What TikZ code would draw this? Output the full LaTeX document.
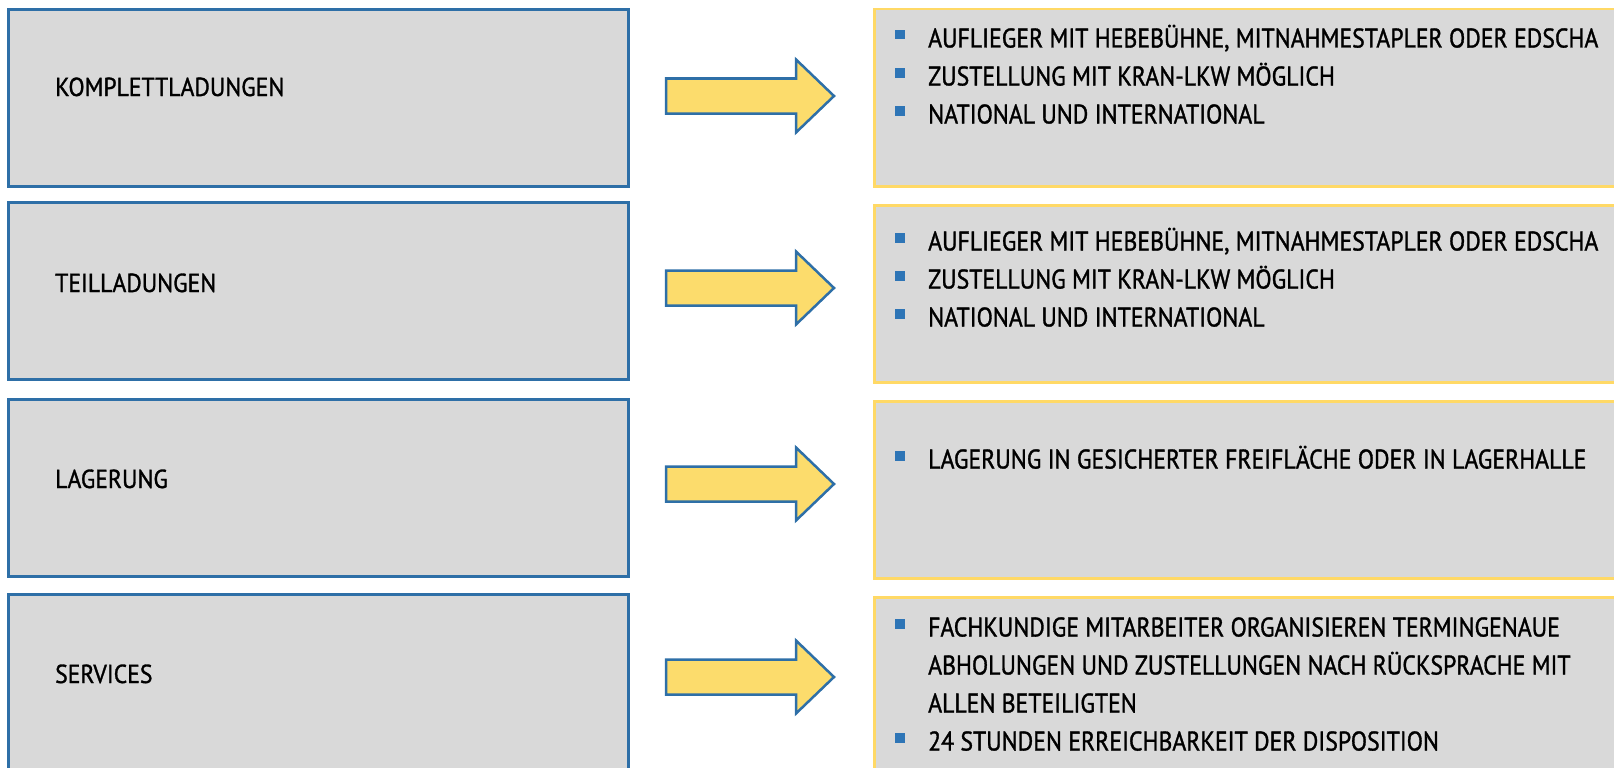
\documentclass[tikz,border=0pt]{standalone}
\usepackage{fontspec}
\setmainfont{PT Sans}
\newfontfamily\itemfont[FakeStretch=0.88,FakeBold=1.2]{PT Sans}
\newfontfamily\catfont[FakeStretch=0.91,FakeBold=1.2]{PT Sans}
\usetikzlibrary{positioning}
\definecolor{boxBlue}{HTML}{2E6FA7}
\definecolor{boxGrey}{HTML}{D9D9D9}
\definecolor{arrYellow}{HTML}{FCDC6C}
\definecolor{lineYellow}{HTML}{FFD966}
\definecolor{bulBlue}{HTML}{2E75B6}
\newcommand{\bul}{\textcolor{bulBlue}{\rule[8pt]{9.5pt}{9.5pt}}\hspace{23.5pt}}
\newcommand{\nobul}{\hspace{33pt}}
\tikzset{
	catbox/.style={draw=boxBlue, line width=3pt, fill=boxGrey, anchor=north west,
		minimum width=620pt, minimum height=177pt, inner sep=0},
	infobox/.style={draw=lineYellow, line width=2.5pt, fill=boxGrey, anchor=north west,
		minimum width=780pt, minimum height=177pt, inner sep=0},
	cattxt/.style={anchor=west, inner sep=0, text height=18pt, text depth=0pt,
		font=\catfont\fontsize{26}{30}\selectfont},
	itemtxt/.style={anchor=west, inner sep=0, text height=19pt, text depth=0pt,
		font=\itemfont\fontsize{27}{32}\selectfont},
	bigarr/.style={draw=boxBlue, line width=2.5pt, fill=arrYellow, line join=miter}
}
\newcommand{\bigarrow}[1]{\draw[bigarr] (#1) ++(0,-17.5) -- ++(130,0) -- ++(0,-19)
	-- ++(38,36.5) -- ++(-38,36.5) -- ++(0,-19) -- ++(-130,0) -- cycle;}

\begin{document}
\begin{tikzpicture}[x=1pt, y=-1pt]
	\useasboundingbox (0,0) rectangle (1614,768);
	% categories
	\node[catbox] (kompl) at (7,8) {};
	\node[catbox] (teil) at (7,201) {};
	\node[catbox] (lager) at (7,398) {};
	\node[catbox, minimum height=200pt] (serv) at (7,593) {};
	\node[cattxt] (komplL) at (55,87) {KOMPLETTLADUNGEN};
	\node[cattxt] (teilL) at (55,283) {TEILLADUNGEN};
	\node[cattxt] (lagerL) at (55,479) {LAGERUNG};
	\node[cattxt] (servL) at (55,674) {SERVICES};
	
	% details
	\node[infobox] (komplI) at (873,8) {};
	\node[infobox] (teilI) at (873,204) {};
	\node[infobox] (lagerI) at (873,400) {};
	\node[infobox, minimum height=200pt] (servI) at (873,596) {};
	
	\node[itemtxt] (k1) at (895,38) {\bul AUFLIEGER MIT HEBEBÜHNE, MITNAHMESTAPLER ODER EDSCHA};
	\node[itemtxt] (k2) at (895,76) {\bul ZUSTELLUNG MIT KRAN-LKW MÖGLICH};
	\node[itemtxt] (k3) at (895,114) {\bul NATIONAL UND INTERNATIONAL};
	\node[itemtxt] (t1) at (895,241) {\bul AUFLIEGER MIT HEBEBÜHNE, MITNAHMESTAPLER ODER EDSCHA};
	\node[itemtxt] (t2) at (895,279) {\bul ZUSTELLUNG MIT KRAN-LKW MÖGLICH};
	\node[itemtxt] (t3) at (895,317) {\bul NATIONAL UND INTERNATIONAL};
	\node[itemtxt] (l1) at (895,459) {\bul LAGERUNG IN GESICHERTER FREIFLÄCHE ODER IN LAGERHALLE};
	\node[itemtxt] (s1) at (895,627) {\bul FACHKUNDIGE MITARBEITER ORGANISIEREN TERMINGENAUE};
	\node[itemtxt] (s2) at (895,665) {\nobul ABHOLUNGEN UND ZUSTELLUNGEN NACH RÜCKSPRACHE MIT};
	\node[itemtxt] (s3) at (895,703) {\nobul ALLEN BETEILIGTEN};
	\node[itemtxt] (s4) at (895,741) {\bul 24 STUNDEN ERREICHBARKEIT DER DISPOSITION};
	
	% arrows
	\coordinate (a1) at (666,96);
	\coordinate (a2) at (666,288);
	\coordinate (a3) at (666,484);
	\coordinate (a4) at (666,677);
	\bigarrow{a1}
	\bigarrow{a2}
	\bigarrow{a3}
	\bigarrow{a4}
\end{tikzpicture}
\end{document}
